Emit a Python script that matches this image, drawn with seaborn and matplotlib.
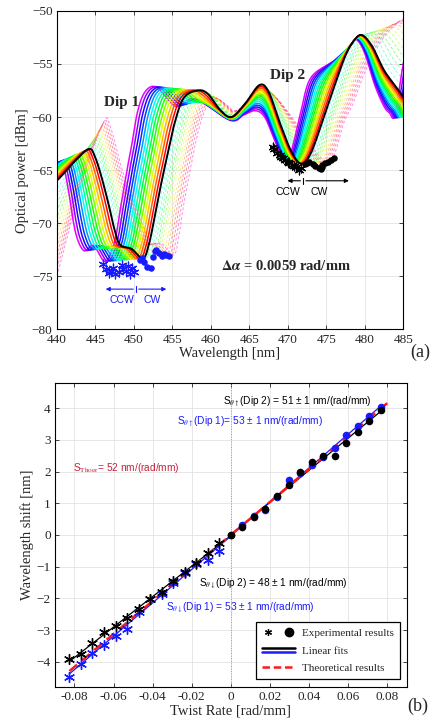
import numpy as np
import matplotlib
matplotlib.use("Agg")
import matplotlib.pyplot as plt
from matplotlib.lines import Line2D
from matplotlib.legend_handler import HandlerBase, HandlerTuple
import seaborn as sns

# ---- twist rates (rad/mm) and measured dip shifts (nm) ----
twist_ccw = [-0.0059, -0.0118, -0.0177, -0.0236, -0.0295, -0.0354, -0.0413,
             -0.0472, -0.0531, -0.0590, -0.0649, -0.0708, -0.0767, -0.0826]
twist_cw = [0.0, 0.0059, 0.0118, 0.0177, 0.0236, 0.0295, 0.0354, 0.0413,
            0.0472, 0.0531, 0.0590, 0.0649, 0.0708, 0.0767]

dip2_ccw = [-0.26, -0.56, -0.88, -1.16, -1.46, -1.80, -2.01, -2.33, -2.61, -2.87,
            -3.05, -3.42, -3.76, -3.92]
dip1_ccw = [-0.50, -0.78, -0.92, -1.21, -1.52, -1.86, -2.01, -2.44, -2.97, -3.18,
            -3.46, -3.73, -4.07, -4.47]
dip2_cw = [0.0, 0.26, 0.56, 0.82, 1.24, 1.58, 2.00, 2.29, 2.49, 2.49, 2.89, 3.25,
           3.60, 3.95]
dip1_cw = [0.0, 0.30, 0.60, 0.80, 1.20, 1.75, 1.95, 2.20, 2.45, 2.75, 3.15, 3.45,
           3.75, 4.05]
theory_slope = 52  # nm/(rad/mm)

# ---- dip minima powers (dBm) ----
dip1_ccw_pw = [-74.6, -74.2, -74.8, -74.0, -74.5, -74.3, -73.9, -74.6, -74.8, -74.2,
               -74.5, -74.7, -74.3, -73.8]
dip1_cw_pw = [-73.5, -73.3, -73.6, -74.1, -74.2, -73.2, -72.6, -72.5, -72.8,
              -73.1, -72.9, -73.0, -73.1]
dip2_ccw_pw = [-64.8, -65.0, -64.7, -64.6, -64.5, -64.3, -64.2, -64.0, -63.9, -63.8,
               -63.6, -63.4, -63.0, -62.8]
dip2_cw_pw = [-64.4, -64.3, -64.2, -64.4, -64.6, -64.8, -64.9, -64.7, -64.5, -64.3,
              -64.2, -64.0, -63.9]
dip1_ref = 450.5
dip2_ref = 472.0

# ---- spectra feature points: zero twist (black), max CCW (red), max CW (pink) ----
black_wl = [438.0, 440.0, 442.3, 444.2, 445.0, 445.8, 446.7, 447.4, 448.2, 449.7,
            451.2, 452.0, 452.8, 453.5, 454.3, 455.3, 456.5, 458.3, 459.6, 461.2,
            462.7, 464.5, 466.3, 467.5, 469.0, 470.5, 471.8, 473.0, 474.5, 476.0,
            477.5, 478.7, 479.7, 481.0, 482.5, 484.0, 485.3, 486.8, 488.3, 490.0]
black_pw = [-67.0, -66.0, -64.2, -63.0, -63.8, -65.6, -68.1, -70.3, -72.0, -72.4,
            -73.3, -71.9, -69.1, -66.5, -63.8, -60.6, -58.2, -57.5, -57.8, -59.3,
            -60.0, -58.7, -57.0, -57.6, -60.6, -63.3, -64.4, -63.4, -60.4, -57.2,
            -54.2, -52.7, -52.3, -53.4, -55.6, -57.1, -58.4, -60.0, -57.5, -54.0]
red_wl = [436.5, 438.0, 439.3, 440.4, 441.0, 441.6, 442.1, 442.7, 443.6, 444.8,
          446.3, 447.5, 448.3, 449.0, 449.7, 450.5, 451.5, 453.0, 455.5, 458.0,
          462.5, 464.3, 465.8, 467.0, 468.2, 469.2, 470.0, 470.7, 471.7, 473.0,
          476.0, 478.0, 478.9, 480.0, 481.3, 482.5, 483.2, 483.9, 485.0, 486.2]
red_pw = [-66.5, -65.0, -64.5, -64.3, -65.0, -67.2, -69.6, -71.5, -72.6, -72.1,
          -73.6, -71.8, -68.5, -65.5, -62.8, -59.5, -57.6, -57.2, -59.0, -58.3,
          -60.3, -59.8, -59.4, -60.0, -62.0, -63.7, -64.2, -62.6, -59.5, -56.3,
          -54.7, -53.4, -52.7, -54.0, -57.0, -59.0, -59.6, -59.8, -55.0, -51.5]
pink_wl = [438.5, 440.0, 443.2, 446.1, 447.0, 448.4, 449.5, 450.8, 452.2, 453.6,
           455.2, 455.9, 456.5, 457.2, 458.0, 458.9, 459.8, 460.8, 461.6, 462.3,
           463.2, 465.2, 467.5, 469.0, 471.0, 473.3, 475.3, 476.3, 477.3, 478.5,
           480.0, 482.0, 484.0, 486.0, 487.5, 489.0, 490.5, 492.0, 494.0, 496.0]
pink_pw = [-77.5, -75.0, -66.3, -60.5, -61.0, -64.7, -67.0, -69.5, -71.8, -71.9,
           -73.0, -71.0, -68.2, -65.5, -62.5, -60.0, -58.7, -58.3, -58.6, -59.0,
           -59.4, -58.6, -57.8, -58.6, -60.5, -63.0, -64.3, -63.0, -60.5, -58.7,
           -55.8, -53.0, -51.3, -50.5, -50.8, -52.0, -54.0, -56.0, -58.0, -60.0]


def smooth(xk, yk, n=12):
    # Catmull-Rom curve through the read feature points
    p = np.column_stack([xk, yk])
    p = np.vstack([2 * p[0] - p[1], p, 2 * p[-1] - p[-2]])
    t = np.linspace(0, 1, n, endpoint=False)[:, None]
    out = []
    for i in range(1, len(p) - 2):
        p0, p1, p2, p3 = p[i - 1], p[i], p[i + 1], p[i + 2]
        out.append(0.5 * (2 * p1 + (-p0 + p2) * t + (2 * p0 - 5 * p1 + 4 * p2 - p3) * t ** 2
                          + (-p0 + 3 * p1 - 3 * p2 + p3) * t ** 3))
    out.append(p[-2][None])
    out = np.vstack(out)
    return out[:, 0], out[:, 1]


sns.set_style("ticks")
plt.rcParams["font.family"] = ["Liberation Serif", "DejaVu Serif"]
plt.rcParams["mathtext.fontset"] = "stix"
plt.rcParams["axes.linewidth"] = 0.8

fig = plt.figure(figsize=(4.36, 7.21), dpi=100)
ax1 = fig.add_axes([0.130, 0.543, 0.795, 0.442])
ax2 = fig.add_axes([0.126, 0.047, 0.807, 0.422])

# ---------------- (a) spectra ----------------
bw, bp = np.array(black_wl), np.array(black_pw)
rw, rp = np.array(red_wl), np.array(red_pw)
pw_, pp = np.array(pink_wl), np.array(pink_pw)

cmap = plt.get_cmap("hsv")
cw_steps = twist_cw[1:]
cw_cols = cmap(np.linspace(0.5, -0.12, len(cw_steps)) % 1.0)
for tw, col in zip(cw_steps[::-1], cw_cols[::-1]):
    f = tw / max(cw_steps)
    x, y = smooth(bw + f * (pw_ - bw), bp + f * (pp - bp))
    sns.lineplot(x=x, y=y, ax=ax1, sort=False, estimator=None, color=col,
                 lw=0.7, alpha=0.45, linestyle=(0, (3, 2)))

ccw_cols = cmap(np.linspace(0.0, 0.83, len(twist_ccw)))
for tw, col in zip(twist_ccw[::-1], ccw_cols[::-1]):
    f = tw / min(twist_ccw)
    x, y = smooth(bw + f * (rw - bw), bp + f * (rp - bp))
    sns.lineplot(x=x, y=y, ax=ax1, sort=False, estimator=None, color=col, lw=1.1)

x, y = smooth(bw, bp)
sns.lineplot(x=x, y=y, ax=ax1, sort=False, estimator=None, color="black", lw=1.4)

star = (6, 2, 0)
ax1.scatter(dip1_ref + np.array(dip1_ccw), dip1_ccw_pw, marker=star, s=40,
            color="#1a1aff", linewidths=0.9, zorder=5)
ax1.scatter(dip1_ref + np.array(dip1_cw[1:]), dip1_cw_pw, marker="o", s=22,
            color="#1a1aff", linewidths=0, zorder=5)
ax1.scatter(dip2_ref + np.array(dip2_ccw), dip2_ccw_pw, marker=star, s=40,
            color="black", linewidths=0.9, zorder=5)
ax1.scatter(dip2_ref + np.array(dip2_cw[1:]), dip2_cw_pw, marker="o", s=22,
            color="black", linewidths=0, zorder=5)

ax1.set_xlim(440, 485)
ax1.set_ylim(-80, -50)
ax1.set_xticks(np.arange(440, 486, 5))
ax1.set_yticks(np.arange(-80, -49, 5))
ax1.set_xlabel("Wavelength [nm]", fontsize=10.5, labelpad=1)
ax1.set_ylabel("Optical power [dBm]", fontsize=10.5, labelpad=2)

ax1.text(446.1, -58.6, "Dip 1", fontsize=11, fontweight="bold", va="center")
ax1.text(467.7, -56.05, "Dip 2", fontsize=11, fontweight="bold", va="center")
ax1.text(461.3, -74.0, r"$\mathbf{\Delta}\boldsymbol{\alpha}$ = 0.0059 rad/mm",
         fontsize=10.5, fontweight="bold", va="center")

for (x0, x1, xm, yy, col, xc, xw) in [(446.0, 454.6, 450.3, -76.2, "#1a1aff", 448.5, 452.4),
                                      (469.6, 478.3, 472.0, -66.0, "black", 470.0, 474.1)]:
    ax1.annotate("", xy=(x0, yy), xytext=(xm, yy),
                 arrowprops=dict(arrowstyle="-|>", color=col, lw=0.8, mutation_scale=6))
    ax1.annotate("", xy=(x1, yy), xytext=(xm, yy),
                 arrowprops=dict(arrowstyle="-|>", color=col, lw=0.8, mutation_scale=6))
    ax1.plot([xm, xm], [yy - 0.3, yy + 0.3], color=col, lw=0.8)
    ax1.text(xc, yy - 1.05, "CCW", color=col, fontsize=7.5, ha="center", va="center",
             family="Liberation Sans")
    ax1.text(xw, yy - 1.05, "CW", color=col, fontsize=7.5, ha="center", va="center",
             family="Liberation Sans")

# ---------------- (b) twist response ----------------
ax2.axvline(0, color="#999999", lw=0.7, ls=":", zorder=1)
lx_ccw = np.array([0.0] + twist_ccw)
lx_cw = np.array(twist_cw)
for xs, ys, col in [(lx_ccw, [0.0] + dip2_ccw, "black"), (lx_ccw, [0.0] + dip1_ccw, "#1a1aff"),
                    (lx_cw, dip2_cw, "black"), (lx_cw, dip1_cw, "#1a1aff")]:
    k, b = np.polyfit(xs, ys, 1)
    xl = np.array([xs.min(), xs.max()])
    sns.lineplot(x=xl, y=k * xl + b, ax=ax2, color=col, lw=0.9, estimator=None)
xt = np.array([min(twist_ccw), 0.080])
sns.lineplot(x=xt, y=theory_slope * xt, ax=ax2, color="#ff1a1a", lw=1.8,
             linestyle=(0, (4, 2.5)), estimator=None)

sns.scatterplot(x=twist_ccw, y=dip1_ccw, ax=ax2, marker=star, s=50, color="#1a1aff",
                linewidth=1.0, zorder=5)
sns.scatterplot(x=twist_ccw, y=dip2_ccw, ax=ax2, marker=star, s=50, color="black",
                linewidth=1.0, zorder=6)
sns.scatterplot(x=twist_cw, y=dip1_cw, ax=ax2, marker="o", s=30, color="#1a1aff",
                linewidth=0, zorder=5)
sns.scatterplot(x=twist_cw, y=dip2_cw, ax=ax2, marker="o", s=30, color="black",
                linewidth=0, zorder=6)

ax2.set_xlim(-0.09, 0.09)
ax2.set_ylim(-4.8, 4.8)
ax2.set_xticks(np.arange(-0.08, 0.081, 0.02))
ax2.set_xticklabels(["-0.08", "-0.06", "-0.04", "-0.02", "0", "0.02", "0.04", "0.06", "0.08"])
ax2.set_yticks(np.arange(-4, 5, 1))
ax2.set_xlabel("Twist Rate [rad/mm]", fontsize=10.5, labelpad=1)
ax2.set_ylabel("Wavelength shift [nm]", fontsize=10.5, labelpad=2)

sans = dict(family="Liberation Sans", fontsize=7.3, va="center", transform=ax2.transAxes)
ax2.text(0.477, 0.9375, r"S$_{\theta\uparrow}$(Dip 2) = 51 ± 1 nm/(rad/mm)", color="black", **sans)
ax2.text(0.347, 0.872, r"S$_{\theta\uparrow}$(Dip 1)= 53 ± 1 nm/(rad/mm)", color="#1a1aff", **sans)
ax2.text(0.051, 0.72, r"S$_{\rm Thoer}$= 52 nm/(rad/mm)", color="#c0243c", **sans)
ax2.text(0.409, 0.339, r"S$_{\theta\downarrow}$(Dip 2) = 48 ± 1 nm/(rad/mm)", color="black", **sans)
ax2.text(0.315, 0.26, r"S$_{\theta\downarrow}$(Dip 1) = 53 ± 1 nm/(rad/mm)", color="#1a1aff", **sans)


class TwoLines(HandlerBase):
    def create_artists(self, legend, orig, xd, yd, w, h, fs, trans):
        l1 = Line2D([xd, xd + w], [yd + 0.75 * h, yd + 0.75 * h], color="black", lw=1.8)
        l2 = Line2D([xd, xd + w], [yd + 0.2 * h, yd + 0.2 * h], color="#1a1aff", lw=1.8)
        for ln in (l1, l2):
            ln.set_transform(trans)
        return [l1, l2]


h_exp = (Line2D([], [], ls="none", marker=star, color="black", ms=5, mew=0.9),
         Line2D([], [], ls="none", marker="o", color="black", ms=6))
h_fit = Line2D([], [], color="black")
h_th = Line2D([], [], color="#ff1a1a", lw=1.8, ls=(0, (3, 1.5)))
leg = ax2.legend([h_exp, h_fit, h_th],
                 ["Experimental results", "Linear fits", "Theoretical results"],
                 handler_map={tuple: HandlerTuple(ndivide=None, pad=0.8), h_fit: TwoLines()},
                 loc="lower right", bbox_to_anchor=(0.98, 0.026), borderaxespad=0,
                 fontsize=8, handlelength=3.0, handletextpad=0.6, fancybox=False,
                 framealpha=1, edgecolor="black", borderpad=0.55, labelspacing=0.7)
leg.get_frame().set_linewidth(0.9)

for ax in (ax1, ax2):
    ax.grid(True, color="#e3e3e3", lw=0.6)
    ax.set_axisbelow(True)
    ax.tick_params(direction="in", top=True, right=True, labelsize=9.5, length=3,
                   width=0.6, pad=3)
    for sp in ax.spines.values():
        sp.set_visible(True)
        sp.set_color("black")

fig.text(0.963, 0.512, "(a)", fontsize=13, ha="center", va="center")
fig.text(0.957, 0.020, "(b)", fontsize=13, ha="center", va="center")

fig.savefig("out.png", dpi=100)
